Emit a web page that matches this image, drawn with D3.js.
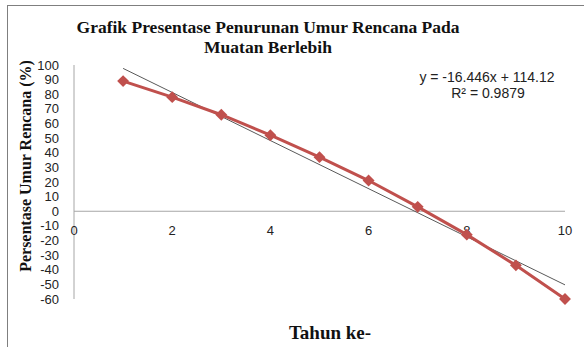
<!DOCTYPE html>
<html>
<head>
<meta charset="utf-8">
<script src="https://cdn.jsdelivr.net/npm/d3@7"></script>
<style>
  body { margin: 0; background: #fff; }
  svg { display: block; }
</style>
</head>
<body>
<div id="chart"></div>
<script>
// data
const tahun = [1, 2, 3, 4, 5, 6, 7, 8, 9, 10];
const persentase = [89, 78, 66, 52, 37, 21, 3, -16, -37, -60];
const xTicks = [0, 2, 4, 6, 8, 10];
const yTicks = [100, 90, 80, 70, 60, 50, 40, 30, 20, 10, 0, -10, -20, -30, -40, -50, -60];
const slope = -16.446;
const intercept = 114.12;

const W = 584, H = 347;
const svg = d3.select("#chart").append("svg")
    .attr("width", W)
    .attr("height", H);

// outer frame
svg.append("rect")
    .attr("x", 7.5).attr("y", 5.5)
    .attr("width", 700).attr("height", 500)
    .attr("fill", "none")
    .attr("stroke", "#7f7f7f")
    .attr("stroke-width", 1);

const x = d3.scaleLinear().domain([0, 10]).range([74, 565]);
const y = d3.scaleLinear().domain([-60, 100]).range([299, 65]);

const tickFont = "'Liberation Sans', Arial, sans-serif";

// y axis line
svg.append("line")
    .attr("x1", x(0)).attr("x2", x(0))
    .attr("y1", y(100)).attr("y2", y(-60))
    .attr("stroke", "#a6a6a6");

// zero line
svg.append("line")
    .attr("x1", x(0)).attr("x2", x(10))
    .attr("y1", y(0)).attr("y2", y(0))
    .attr("stroke", "#a6a6a6");

// y tick labels
svg.selectAll(".ytick")
    .data(yTicks)
    .enter()
    .append("text")
    .attr("class", "ytick")
    .attr("x", 59)
    .attr("y", d => y(d))
    .attr("dy", "0.35em")
    .attr("text-anchor", "end")
    .style("font-family", tickFont)
    .style("font-size", "13px")
    .style("fill", "#222")
    .text(d => d);

// x tick labels
svg.selectAll(".xtick")
    .data(xTicks)
    .enter()
    .append("text")
    .attr("class", "xtick")
    .attr("x", d => x(d))
    .attr("y", y(0) + 19)
    .attr("dy", "0.35em")
    .attr("text-anchor", "middle")
    .style("font-family", tickFont)
    .style("font-size", "13px")
    .style("fill", "#222")
    .text(d => d);

// trendline
svg.append("line")
    .attr("x1", x(1)).attr("y1", y(slope * 1 + intercept))
    .attr("x2", x(10)).attr("y2", y(slope * 10 + intercept))
    .attr("stroke", "#595959")
    .attr("stroke-width", 1);

const data = tahun.map((t, i) => ({ t: t, v: persentase[i] }));

svg.append("path")
    .datum(data)
    .attr("fill", "none")
    .attr("stroke", "#c0504d")
    .attr("stroke-width", 3)
    .attr("d", d3.line().x(d => x(d.t)).y(d => y(d.v)));

svg.selectAll(".marker")
    .data(data)
    .enter()
    .append("path")
    .attr("class", "marker")
    .attr("transform", d => "translate(" + x(d.t) + "," + y(d.v) + ")")
    .attr("d", d3.symbol().type(d3.symbolDiamond2).size(90))
    .attr("fill", "#c0504d");

// title
const title = svg.append("text")
    .attr("text-anchor", "middle")
    .style("font-family", "'Liberation Serif', 'Times New Roman', serif")
    .style("font-weight", "bold")
    .style("font-size", "17.5px")
    .style("fill", "#111");
title.append("tspan").attr("x", 268).attr("y", 33).text("Grafik Presentase Penurunan Umur Rencana Pada");
title.append("tspan").attr("x", 268).attr("y", 53).text("Muatan Berlebih");

// equation
svg.append("text")
    .attr("x", 487).attr("y", 82)
    .attr("text-anchor", "middle")
    .style("font-family", tickFont)
    .style("font-size", "14px")
    .style("fill", "#222")
    .text("y = -16.446x + 114.12");
svg.append("text")
    .attr("x", 488).attr("y", 98)
    .attr("text-anchor", "middle")
    .style("font-family", tickFont)
    .style("font-size", "14px")
    .style("fill", "#222")
    .text("R² = 0.9879");

// axis titles
svg.append("text")
    .attr("transform", "translate(31,166) rotate(-90)")
    .attr("text-anchor", "middle")
    .style("font-family", "'Liberation Serif', 'Times New Roman', serif")
    .style("font-weight", "bold")
    .style("font-size", "16px")
    .style("fill", "#111")
    .text("Persentase Umur Rencana (%)");

svg.append("text")
    .attr("x", 330).attr("y", 339)
    .attr("text-anchor", "middle")
    .style("font-family", "'Liberation Serif', 'Times New Roman', serif")
    .style("font-weight", "bold")
    .style("font-size", "19px")
    .style("fill", "#111")
    .text("Tahun ke-");
</script>
</body>
</html>
